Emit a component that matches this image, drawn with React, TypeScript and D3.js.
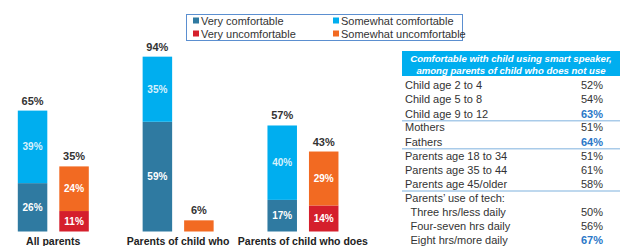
import React from 'react';
import * as d3 from 'd3';

const groups = ['All parents', 'Parents of child who', 'Parents of child who does'];
const veryComfortable = [26, 59, 17];
const somewhatComfortable = [39, 35, 40];
const veryUncomfortable = [11, 0, 14];
const somewhatUncomfortable = [24, 6, 29];

const legendLabels = ['Very comfortable', 'Somewhat comfortable', 'Very uncomfortable', 'Somewhat uncomfortable'];
const colors = ['#2f7aa1', '#00aeef', '#d51f2c', '#f26a22'];

const tableTitle = ['Comfortable with child using smart speaker,', 'among parents of child who does not use'];
const rowLabels = [
  'Child age 2 to 4', 'Child age 5 to 8', 'Child age 9 to 12',
  'Mothers', 'Fathers',
  'Parents age 18 to 34', 'Parents age 35 to 44', 'Parents age 45/older',
  'Parents\u2019 use of tech:', 'Three hrs/less daily', 'Four-seven hrs daily', 'Eight hrs/more daily',
];
const rowValues = ['52%', '54%', '63%', '51%', '64%', '51%', '61%', '58%', '', '50%', '56%', '67%'];
const rowHighlight = [false, false, true, false, true, false, false, false, false, false, false, true];
const rowIndent = [false, false, false, false, false, false, false, false, false, true, true, true];
const groupBreaks = [3, 5, 8]; // separator drawn before these rows

const FONT = '"Liberation Sans", Arial, sans-serif';

export default function App() {
  const width = 620;
  const height = 246;

  const x = d3.scaleBand().domain(groups).range([-9.2, 365.3]);
  const xi = d3.scaleBand().domain(['comf', 'uncomf']).range([27, 98]).paddingInner(0.289);
  const y = d3.scaleLinear().domain([0, 100]).range([231.5, 45.5]);

  const stacks = groups.map((g, i) => [
    { key: 'comf', parts: [
      { v: veryComfortable[i], c: colors[0] },
      { v: somewhatComfortable[i], c: colors[1] },
    ] },
    { key: 'uncomf', parts: [
      { v: veryUncomfortable[i], c: colors[2] },
      { v: somewhatUncomfortable[i], c: colors[3] },
    ] },
  ]);

  const rowY = d3.scaleLinear().domain([0, 1]).range([85.3, 99.5]);
  // extra offset for rows after group breaks
  const rowPos = rowLabels.map((_, i) => rowY(i) - 0.3 * groupBreaks.filter(b => b <= i).length);

  return (
    <svg width={width} height={height} style={{ position: 'absolute', left: 0, top: 0, background: '#fff' }}>
      {/* legend */}
      <rect x={186.5} y={14.5} width={276} height={26} fill="#fff" stroke="#5b8fd0" strokeWidth={1} />
      {legendLabels.map((l, i) => {
        const lx = i % 2 === 0 ? 193 : 333;
        const ly = i < 2 ? 21 : 34;
        return (
          <g key={l}>
            <rect x={lx} y={ly - 3.5} width={6} height={6} fill={colors[i]} />
            <text x={lx + 8} y={ly} dy="0.35em" fontSize={11} fontFamily={FONT} fill="#333">{l}</text>
          </g>
        );
      })}

      {/* bars */}
      {stacks.map((st, gi) => (
        <g key={groups[gi]} transform={`translate(${x(groups[gi])},0)`}>
          {st.map(bar => {
            let acc = 0;
            const total = d3.sum(bar.parts, p => p.v);
            const bx = xi(bar.key) as number;
            const bw = xi.bandwidth();
            return (
              <g key={bar.key}>
                {bar.parts.map((p, pi) => {
                  const y0 = acc;
                  acc += p.v;
                  if (p.v === 0) return null;
                  return (
                    <g key={pi}>
                      <rect x={bx} y={y(acc)} width={bw} height={y(y0) - y(acc)} fill={p.c} />
                      {p.v >= 10 && (
                        <text x={bx + bw / 2} y={(y(y0) + y(acc)) / 2} dy="0.35em" textAnchor="middle"
                          fontSize={10} fontWeight="bold" fontFamily={FONT} fill="#fff" fillOpacity={pi === 1 && bar.key === 'comf' ? 0.85 : 1}>
                          {p.v}%
                        </text>
                      )}
                    </g>
                  );
                })}
                <text x={bx + bw / 2} y={y(total) - 6} textAnchor="middle" fontSize={11} fontWeight="bold"
                  fontFamily={FONT} fill="#333">{total}%</text>
              </g>
            );
          })}
          <text x={x.bandwidth() / 2} y={245} textAnchor="middle" fontSize={10.5} fontWeight="bold"
            fontFamily={FONT} fill="#222">{groups[gi]}</text>
        </g>
      ))}

      {/* table */}
      <rect x={402} y={51} width={218} height={25} fill="#00aeef" />
      {tableTitle.map((t, i) => (
        <text key={t} x={511} y={59 + i * 11.5} dy="0.35em" textAnchor="middle" fontSize={9.6}
          fontWeight="bold" fontStyle="italic" fontFamily={FONT} fill="#fff">{t}</text>
      ))}
      {groupBreaks.map(b => (
        <line key={b} x1={402} x2={620} y1={(rowPos[b] + rowPos[b - 1]) / 2} y2={(rowPos[b] + rowPos[b - 1]) / 2}
          stroke="#a9cbe9" strokeWidth={1.5} />
      ))}
      {rowLabels.map((l, i) => (
        <g key={l}>
          <text x={rowIndent[i] ? 410.5 : 405} y={rowPos[i]} dy="0.35em" fontSize={11} fontFamily={FONT} fill="#333">{l}</text>
          <text x={603} y={rowPos[i]} dy="0.35em" textAnchor="end" fontSize={11} fontFamily={FONT}
            fontWeight={rowHighlight[i] ? 'bold' : 'normal'} fill={rowHighlight[i] ? '#2a78c8' : '#333'}>{rowValues[i]}</text>
        </g>
      ))}
    </svg>
  );
}
